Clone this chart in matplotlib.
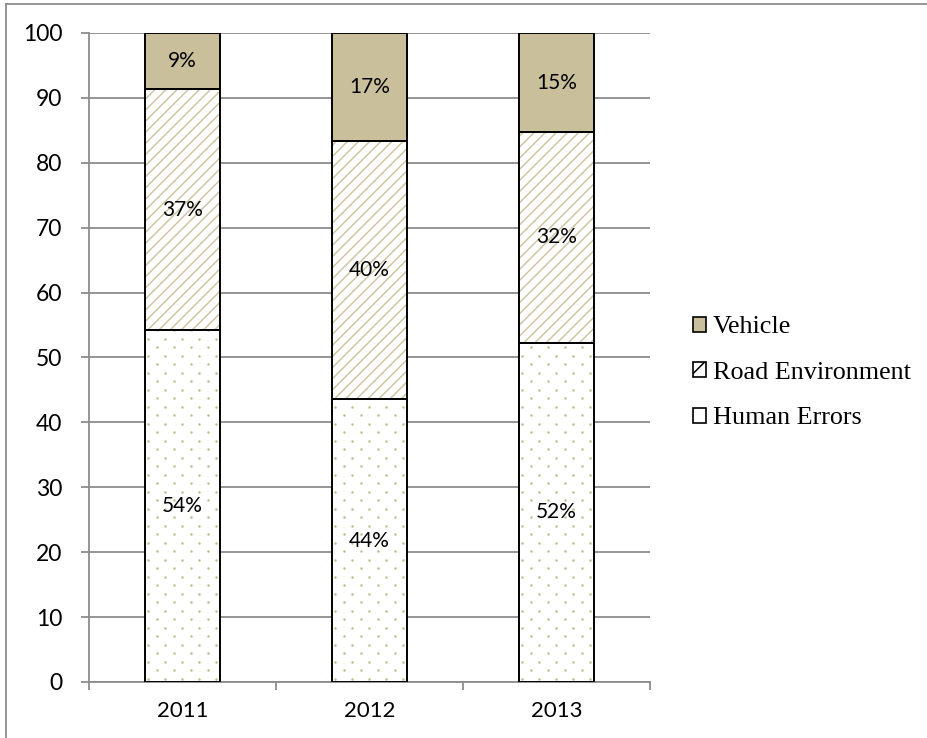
import matplotlib
matplotlib.use("Agg")
import matplotlib.pyplot as plt
from matplotlib.lines import Line2D
from matplotlib.patches import Patch
import numpy as np

# Share of road accident causes by year (%)
years = ["2011", "2012", "2013"]
human_errors = [54.3, 43.6, 52.3]
road_environment = [37.0, 39.8, 32.4]
vehicle = [8.7, 16.6, 15.3]
y_ticks = [0, 10, 20, 30, 40, 50, 60, 70, 80, 90, 100]

TAN = "#c9c09b"
HATCH_TAN = "#cfc6a3"
DOT_TAN = "#c4b98c"
GRID = "#8c8c8c"

plt.rcParams["hatch.linewidth"] = 1.1

fig = plt.figure(figsize=(9.28, 7.38), dpi=100)
ax = fig.add_axes([0.0959, 0.0759, 0.6045, 0.8794])

x = np.arange(len(years))
width = 0.4

ax.set_xlim(-0.5, len(years) - 0.5)
ax.set_ylim(0, 100)

series = [
    ("Human Errors", human_errors, "white", None),
    ("Road Environment", road_environment, "white", "///"),
    ("Vehicle", vehicle, TAN, None),
]

bottom = np.zeros(len(years))
human_bars = None
for name, vals, face, hatch in series:
    vals = np.asarray(vals)
    fill = ax.bar(x, vals, width, bottom=bottom, color=face, edgecolor=HATCH_TAN,
                  linewidth=0, hatch=hatch, zorder=3)
    if name == "Human Errors":
        human_bars = fill
    ax.bar(x, vals, width, bottom=bottom, fill=False, edgecolor="black",
           linewidth=1.4, zorder=5)
    for xi, b, v in zip(x, bottom, vals):
        ax.text(xi, b + v / 2, f"{v:.0f}%", ha="center", va="center",
                fontsize=15, family="Lato", color="black", zorder=6)
    bottom = bottom + vals

# dotted texture inside the "Human Errors" segments (staggered grid in pixels)
fig.canvas.draw()
inv = ax.transData.inverted()
step_x, step_y = 17.0, 8.5
for rect in human_bars:
    (x0, y0), (x1, y1) = ax.transData.transform(
        [(rect.get_x(), rect.get_y()), (rect.get_x() + rect.get_width(),
                                        rect.get_y() + rect.get_height())])
    pts = []
    row = 0
    yy = y0 + 3.0
    while yy < y1:
        xx = x0 + 3.0 + (step_x / 2 if row % 2 else 0.0)
        while xx < x1:
            pts.append((xx, yy))
            xx += step_x
        yy += step_y
        row += 1
    pts = inv.transform(np.array(pts))
    sc = ax.scatter(pts[:, 0], pts[:, 1], s=3.2, color=DOT_TAN, linewidths=0,
                    zorder=4)
    sc.set_clip_path(rect)

ax.set_yticks(y_ticks)
ax.set_xticks(x)
ax.set_xticklabels(years)
ax.set_xticks(np.arange(len(years) + 1) - 0.5, minor=True)
ax.tick_params(axis="x", which="major", length=0, pad=14, labelsize=16)
ax.tick_params(axis="x", which="minor", length=6, width=1.3, color=GRID, direction="out")
ax.tick_params(axis="y", length=6, width=1.3, color=GRID, pad=13, labelsize=16.5)
for lab in ax.get_xticklabels() + ax.get_yticklabels():
    lab.set_family("Lato")

ax.yaxis.grid(True, color=GRID, linewidth=1.3, zorder=0)
ax.set_axisbelow(True)
for s in ("top", "right"):
    ax.spines[s].set_visible(False)
for s in ("left", "bottom"):
    ax.spines[s].set_color(GRID)
    ax.spines[s].set_linewidth(1.3)

handles = [
    Patch(facecolor=TAN, edgecolor="black", linewidth=1.2, label="Vehicle"),
    Patch(facecolor="white", edgecolor="black", linewidth=1.2, hatch="//", label="Road Environment"),
    Patch(facecolor="white", edgecolor="black", linewidth=1.2, label="Human Errors"),
]
leg = fig.legend(handles=handles, loc="center left", bbox_to_anchor=(0.7468, 0.4946),
                 frameon=False, prop={"family": "Liberation Serif", "size": 18.8},
                 handlelength=0.5, handleheight=0.5, handletextpad=0.25,
                 labelspacing=0.9, borderaxespad=0, borderpad=0)

# frame lines along the top and left edges of the figure
fig.add_artist(Line2D([0.0065, 1.0], [0.9945, 0.9945], transform=fig.transFigure,
                      color=GRID, linewidth=1.3))
fig.add_artist(Line2D([0.0065, 0.0065], [0.0, 0.9945], transform=fig.transFigure,
                      color=GRID, linewidth=1.3))

fig.savefig("out.png", dpi=100)
